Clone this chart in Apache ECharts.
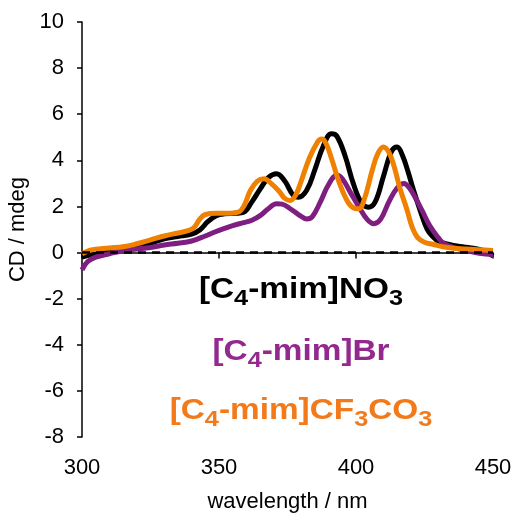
<!DOCTYPE html>
<html>
<head>
<meta charset="utf-8">
<script src="https://cdn.jsdelivr.net/npm/echarts@6/dist/echarts.min.js"></script>
<style>
  html, body { margin: 0; padding: 0; background: #fff; }
  #chart { width: 516px; height: 514px; }
</style>
</head>
<body>
<div id="chart"></div>
<script>
// wavelength (nm) and CD (mdeg)
const no3Wl = [300, 303, 306, 310, 315, 320, 325, 330, 335, 340, 343, 346, 349, 352, 356, 359, 362, 365, 368, 371, 374, 377, 379, 382, 385, 388, 391, 393, 396, 399, 402, 404.5, 407, 410, 413, 415, 417, 419, 421, 423.5, 426, 428, 430, 434, 438, 442, 446, 448, 450];
const no3Cd = [-0.2, -0.1, -0.05, 0.05, 0.15, 0.25, 0.4, 0.6, 0.7, 0.8, 0.98, 1.35, 1.6, 1.68, 1.7, 1.75, 2.2, 2.75, 3.25, 3.42, 3.1, 2.5, 2.4, 2.7, 3.6, 4.6, 5.15, 5.05, 4.2, 3.0, 2.15, 1.97, 2.2, 3.3, 4.4, 4.58, 4.2, 3.5, 2.7, 1.8, 1.0, 0.7, 0.5, 0.35, 0.26, 0.2, 0.1, 0.0, -0.15];

const brWl = [300, 302, 305, 310, 315, 320, 325, 330, 335, 340, 345, 348, 352, 355, 359, 362, 365, 368, 371, 373, 376, 379, 382, 384, 387, 390, 393, 395, 398, 401, 404, 406.5, 409, 412, 415, 417.5, 419.5, 422, 424, 427, 430, 432, 436, 440, 445, 450];
const brCd = [-0.75, -0.4, -0.2, -0.05, 0.08, 0.15, 0.22, 0.33, 0.4, 0.5, 0.72, 0.87, 1.05, 1.17, 1.3, 1.4, 1.6, 1.9, 2.12, 2.1, 1.9, 1.65, 1.46, 1.55, 2.2, 2.95, 3.35, 3.2, 2.6, 2.0, 1.45, 1.25, 1.45, 2.2, 2.8, 3.0, 2.8, 2.3, 1.85, 1.15, 0.65, 0.4, 0.2, 0.1, -0.03, -0.08];

const cf3Wl = [300, 303, 306, 310, 315, 320, 325, 330, 335, 339, 341, 343, 345, 349, 353, 357, 359, 361.5, 364, 366.5, 369, 372, 374, 376, 378, 380, 383, 386, 387.5, 389, 391, 394, 397, 399.5, 401, 403, 406, 408, 410, 412, 414, 416, 418.5, 420.5, 422.5, 425, 428, 433, 440, 450];
const cf3Cd = [-0.05, 0.1, 0.15, 0.2, 0.25, 0.38, 0.55, 0.72, 0.85, 0.96, 1.1, 1.45, 1.65, 1.7, 1.7, 1.75, 2.0, 2.7, 3.1, 3.2, 3.0, 2.65, 2.35, 2.26, 2.5, 3.1, 4.1, 4.8, 4.92, 4.75, 4.1, 3.0, 2.2, 1.92, 1.9, 2.3, 3.6, 4.3, 4.58, 4.35, 3.7, 2.8, 1.9, 1.1, 0.65, 0.45, 0.36, 0.23, 0.15, 0.09];

const xTicks = [300, 350, 400, 450];
const yTicks = [-8, -6, -4, -2, 0, 2, 4, 6, 8, 10];

// series labels, split into [text, isSubscript] pieces
const no3Label = [['[C', false], ['4', true], ['-mim]NO', false], ['3', true]];
const brLabel = [['[C', false], ['4', true], ['-mim]Br', false]];
const cf3Label = [['[C', false], ['4', true], ['-mim]CF', false], ['3', true], ['CO', false], ['3', true]];

const FONT = '"Liberation Sans", Arial, Helvetica, sans-serif';
const measureCtx = document.createElement('canvas').getContext('2d');

function pairs(xs, ys) {
    return xs.map((x, i) => [x, ys[i]]);
}

// builds a centred formula with real subscripts, baseline at y
function formulaLabel(parts, y, color) {
    const fonts = parts.map(([, sub]) => 'bold ' + (sub ? 22 : 29) + 'px ' + FONT);
    const widths = parts.map(([t], i) => {
        measureCtx.font = fonts[i];
        return measureCtx.measureText(t).width;
    });
    const total = widths.reduce((a, b) => a + b, 0);
    let x = -total / 2;
    const children = parts.map(([t, sub], i) => {
        const el = {
            type: 'text',
            x: x,
            // 'middle' puts the em-box centre at y; shift so baselines line up
            y: sub ? 7 - 7.6 : -10,
            style: { text: t, font: fonts[i], fill: color, align: 'left', verticalAlign: 'middle' }
        };
        x += widths[i];
        return el;
    });
    return { type: 'group', x: 301, y: y, scaleX: 1.15, children: children };
}

const chart = echarts.init(document.getElementById('chart'));
const option = {
    animation: false,
    backgroundColor: '#fff',
    grid: { left: 82, right: 23, top: 22, bottom: 77, containLabel: false, outerBoundsMode: 'none' },
    xAxis: {
        type: 'value',
        min: xTicks[0],
        max: xTicks[xTicks.length - 1],
        interval: 50,
        name: 'wavelength / nm',
        nameLocation: 'middle',
        nameGap: 54,
        nameTextStyle: { fontSize: 22, color: '#000', fontFamily: FONT },
        axisLine: { lineStyle: { color: '#000', width: 1.5 } },
        axisTick: { show: true, length: 6, inside: false, lineStyle: { color: '#000', width: 1.5 } },
        axisLabel: { fontSize: 22, color: '#000', fontFamily: FONT, margin: 20 },
        splitLine: { show: false }
    },
    yAxis: {
        type: 'value',
        min: yTicks[0],
        max: yTicks[yTicks.length - 1],
        interval: 2,
        name: 'CD / mdeg',
        nameLocation: 'middle',
        nameGap: 46,
        nameTextStyle: { fontSize: 22, color: '#000', fontFamily: FONT },
        axisLine: { show: true, lineStyle: { color: '#000', width: 1.5 } },
        axisTick: { show: true, length: 5, inside: false, lineStyle: { color: '#000', width: 1.5 } },
        axisLabel: { fontSize: 22, color: '#000', fontFamily: FONT, margin: 18 },
        splitLine: { show: false }
    },
    series: [
        {
            name: '[C4-mim]NO3',
            type: 'line',
            data: pairs(no3Wl, no3Cd),
            showSymbol: false,
            smooth: 0.4,
            lineStyle: { color: '#000', width: 5 },
            z: 2,
            markLine: {
                silent: true,
                symbol: ['none', 'none'],
                label: { show: false },
                lineStyle: { color: '#000', width: 2.5, type: [8, 6] },
                data: [{ yAxis: 0 }]
            }
        },
        {
            name: '[C4-mim]Br',
            type: 'line',
            data: pairs(brWl, brCd),
            showSymbol: false,
            smooth: 0.4,
            lineStyle: { color: '#7e1e80', width: 5 },
            z: 3
        },
        {
            name: '[C4-mim]CF3CO3',
            type: 'line',
            data: pairs(cf3Wl, cf3Cd),
            showSymbol: false,
            smooth: 0.4,
            lineStyle: { color: '#f08000', width: 5 },
            z: 4
        }
    ],
    graphic: [
        formulaLabel(no3Label, 300, '#000'),
        formulaLabel(brLabel, 361.5, '#93298e'),
        formulaLabel(cf3Label, 421, '#f27a1a')
    ]
};
chart.setOption(option);
</script>
</body>
</html>
